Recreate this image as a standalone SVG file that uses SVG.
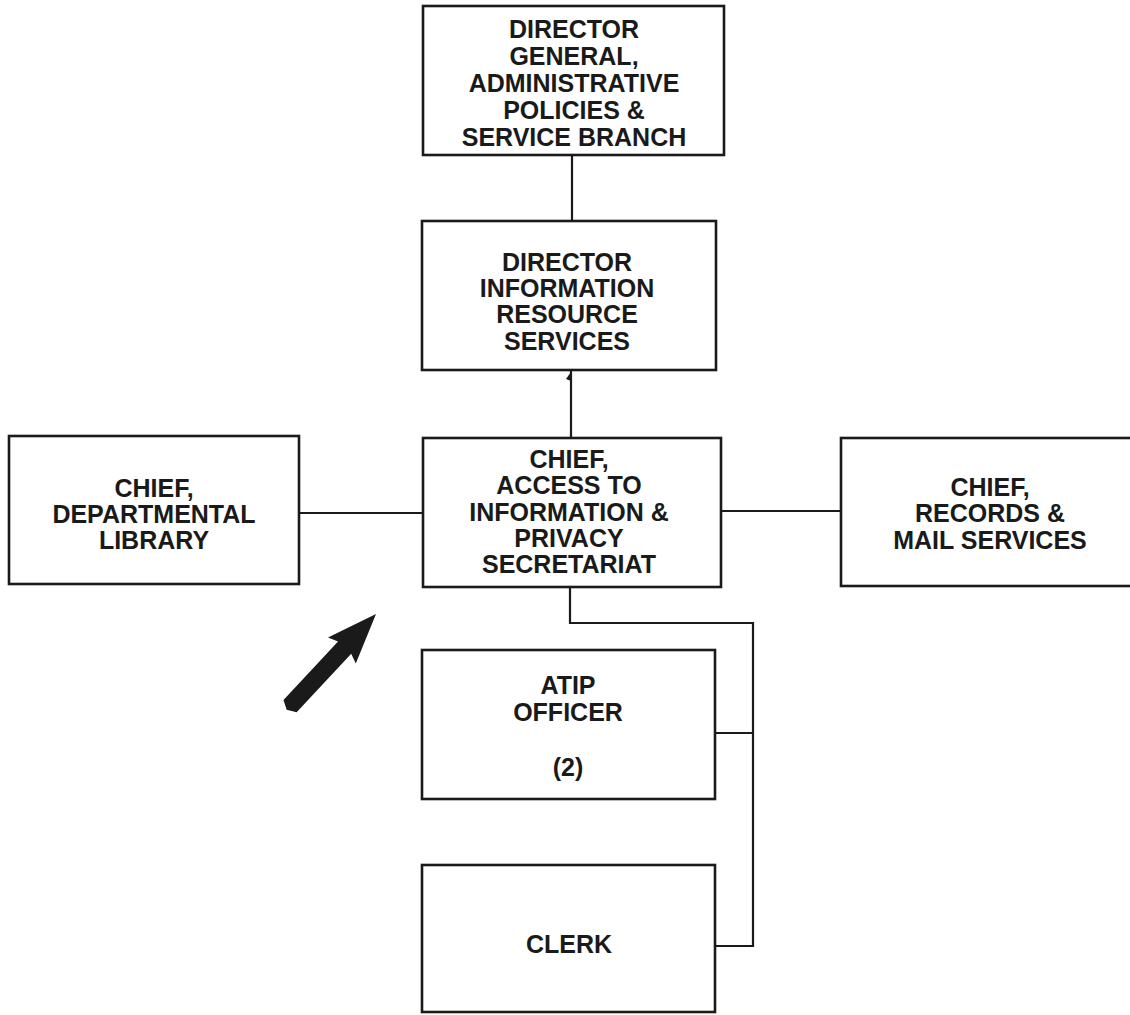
<svg xmlns="http://www.w3.org/2000/svg" width="1130" height="1015" viewBox="0 0 1130 1015">
  <style>
    .box { fill: #ffffff; stroke: #1a1a1a; stroke-width: 2.6; }
    .lbl { font-family: "Liberation Sans", Arial, Helvetica, sans-serif; font-weight: bold; font-size: 25px; fill: #1a1a1a; text-anchor: middle; }
    .wire { fill: none; stroke: #1a1a1a; stroke-width: 2.2; }
  </style>
  <rect width="1130" height="1015" fill="#ffffff"/>

  <!-- reporting lines -->
  <g id="connectors">
    <line class="wire" x1="572" y1="155" x2="572" y2="221"/>
    <line class="wire" x1="571" y1="370" x2="571" y2="438"/>
    <polygon points="571,372 566,379 571,381" fill="#1a1a1a"/>
    <line class="wire" x1="299" y1="513" x2="423" y2="513"/>
    <line class="wire" x1="721" y1="511" x2="841" y2="511"/>
    <polyline class="wire" points="570,587 570,623 753,623 753,946 715,946"/>
    <line class="wire" x1="715" y1="733" x2="753" y2="733"/>
  </g>

  <g id="node-dg">
    <rect class="box" x="423" y="6" width="301" height="149"/>
    <text class="lbl" x="574" y="38">DIRECTOR</text>
    <text class="lbl" x="574" y="65">GENERAL,</text>
    <text class="lbl" x="574" y="92">ADMINISTRATIVE</text>
    <text class="lbl" x="574" y="119">POLICIES &amp;</text>
    <text class="lbl" x="574" y="146">SERVICE BRANCH</text>
  </g>

  <g id="node-irs">
    <rect class="box" x="422" y="221" width="294" height="149"/>
    <text class="lbl" x="567" y="271">DIRECTOR</text>
    <text class="lbl" x="567" y="297">INFORMATION</text>
    <text class="lbl" x="567" y="323">RESOURCE</text>
    <text class="lbl" x="567" y="350">SERVICES</text>
  </g>

  <g id="node-atip-chief">
    <rect class="box" x="423" y="438" width="298" height="149"/>
    <text class="lbl" x="569" y="468">CHIEF,</text>
    <text class="lbl" x="569" y="494">ACCESS TO</text>
    <text class="lbl" x="569" y="521">INFORMATION &amp;</text>
    <text class="lbl" x="569" y="547">PRIVACY</text>
    <text class="lbl" x="569" y="573">SECRETARIAT</text>
  </g>

  <g id="node-library">
    <rect class="box" x="9" y="436" width="290" height="148"/>
    <text class="lbl" x="154" y="497">CHIEF,</text>
    <text class="lbl" x="154" y="523">DEPARTMENTAL</text>
    <text class="lbl" x="154" y="549">LIBRARY</text>
  </g>

  <g id="node-records">
    <rect class="box" x="841" y="438" width="300" height="148"/>
    <text class="lbl" x="990" y="496">CHIEF,</text>
    <text class="lbl" x="990" y="522">RECORDS &amp;</text>
    <text class="lbl" x="990" y="549">MAIL SERVICES</text>
  </g>

  <g id="node-officer">
    <rect class="box" x="422" y="650" width="293" height="149"/>
    <text class="lbl" x="568" y="694">ATIP</text>
    <text class="lbl" x="568" y="721">OFFICER</text>
    <text class="lbl" x="568" y="776">(2)</text>
  </g>

  <g id="node-clerk">
    <rect class="box" x="422" y="865" width="293" height="147"/>
    <text class="lbl" x="569" y="953">CLERK</text>
  </g>

  <!-- bold pointer arrow, tip at upper right -->
  <g id="pointer">
    <polygon fill="#1a1a1a" transform="translate(376,614) rotate(133)" points="0,0 50,-19 46,-9 126,-9 131,0 126,9 46,9 50,19"/>
  </g>
</svg>
